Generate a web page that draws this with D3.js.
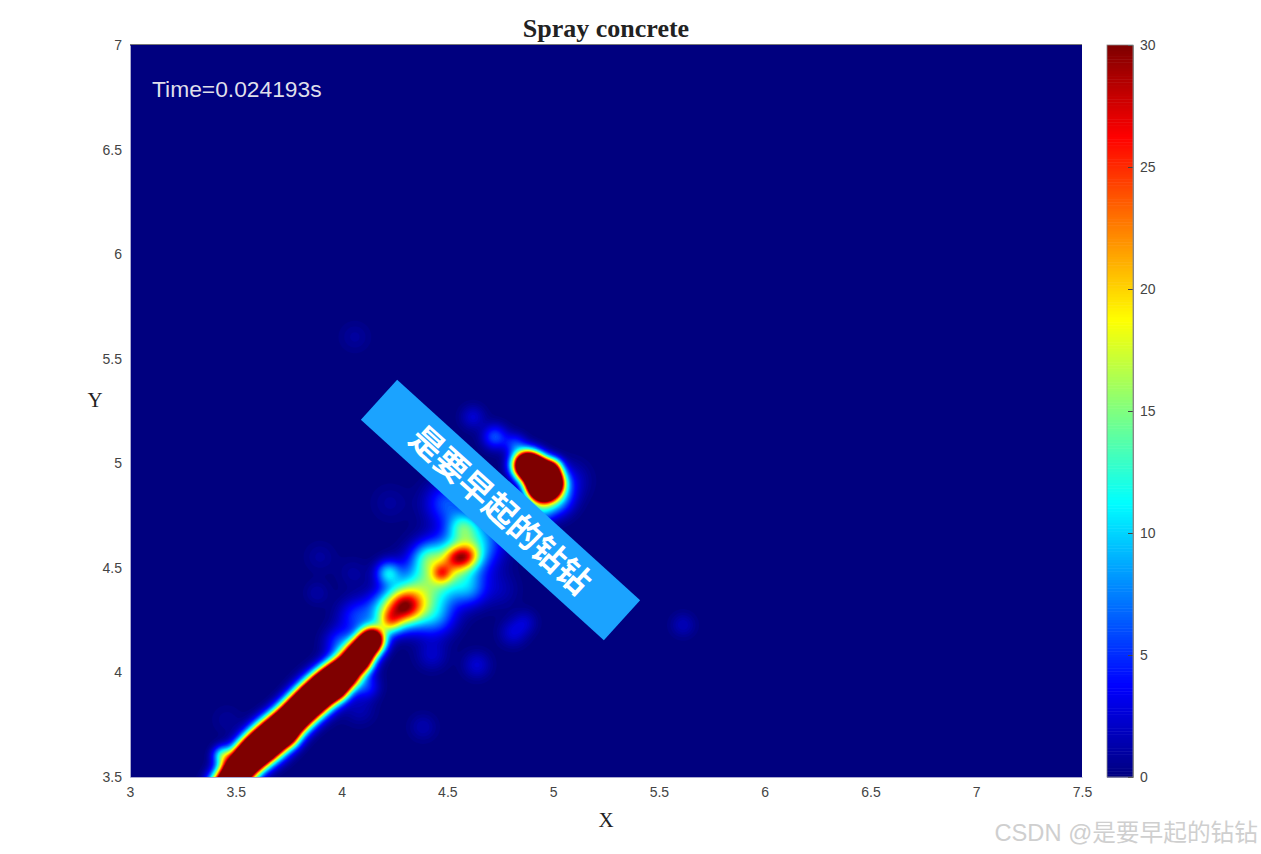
<!DOCTYPE html>
<html lang="en">
  <head>
    <meta charset="utf-8">
    <title>Spray concrete</title>
    <script src="https://d3js.org/d3.v7.min.js"></script>
    <style>
      html, body { margin: 0; background: #fff; }
      svg { display: block; }
      .tick text { font-family: "Liberation Sans", Arial, sans-serif; font-size: 14px; fill: #444; }
      .serif { font-family: "Liberation Serif", serif; fill: #222; }
    </style>
  </head>
  <body>
    <div id="chart"></div>
    <script>
      // concentration patches: centre, spread, peak value
      var patchX = [3.449, 3.496, 3.544, 3.591, 3.638, 3.685, 3.733, 3.780, 3.827, 3.874, 3.922, 3.969, 4.016, 4.064, 4.101, 4.144,
                    3.435, 3.76, 3.99, 4.11, 4.05, 3.90,
                    4.300, 4.229, 4.598, 4.541, 4.475, 4.366, 4.461, 4.556, 4.650, 4.574, 4.220, 4.404, 4.205, 4.442, 4.607, 4.073, 3.993, 4.498,
                    4.877, 4.929, 4.981, 4.943, 5.00, 5.010, 4.938, 5.08, 4.725, 4.621, 4.82,
                    4.063, 5.614, 4.81, 4.867, 4.640, 4.385, 3.898, 4.054, 3.884, 4.427, 4.087, 3.458, 4.229, 4.12, 4.749];
      var patchY = [3.438, 3.510, 3.572, 3.620, 3.658, 3.701, 3.744, 3.792, 3.839, 3.883, 3.926, 3.964, 4.002, 4.059, 4.107, 4.155,
                    3.605, 3.68, 3.90, 4.04, 4.03, 3.90,
                    4.313, 4.241, 4.557, 4.547, 4.475, 4.375, 4.470, 4.542, 4.637, 4.695, 4.475, 4.552, 4.299, 4.265, 4.394, 4.265, 4.141, 4.810,
                    4.992, 4.958, 4.911, 4.885, 4.98, 4.835, 4.777, 4.92, 5.126, 5.221, 5.09,
                    5.604, 4.227, 4.189, 4.241, 4.036, 3.739, 4.552, 4.475, 4.38, 4.083, 3.82, 3.773, 4.81, 3.93, 4.394];
      var patchSpread = [0.047, 0.047, 0.047, 0.047, 0.05, 0.05, 0.047, 0.047, 0.047, 0.047, 0.047, 0.047, 0.045, 0.042, 0.04, 0.04,
                         0.03, 0.03, 0.03, 0.03, 0.07, 0.07,
                         0.06, 0.04, 0.04, 0.04, 0.032, 0.09, 0.09, 0.09, 0.08, 0.05, 0.04, 0.05, 0.06, 0.065, 0.055, 0.06, 0.05, 0.07,
                         0.042, 0.042, 0.042, 0.042, 0.03, 0.055, 0.045, 0.06, 0.04, 0.04, 0.035,
                         0.05, 0.04, 0.045, 0.04, 0.045, 0.045, 0.05, 0.05, 0.04, 0.05, 0.05, 0.05, 0.06, 0.04, 0.06];
      var patchPeak = [50, 50, 50, 50, 50, 50, 50, 50, 50, 50, 50, 50, 45, 40, 40, 45,
                       10, 6, 6, 6, 3, 3,
                       22, 12, 10, 10, 9, 9, 9, 9, 7, 8, 9, 6, 8, 6, 5, 5, 5, 6,
                       60, 60, 60, 60, 15, 10, 7, 2.5, 6, 2.5, 5,
                       1, 1.8, 2.5, 2, 2.5, 1.5, 1, 1, 1.2, 2.2, 1.5, 0.8, 1, 4, 1.5];

      var xTicks = [3, 3.5, 4, 4.5, 5, 5.5, 6, 6.5, 7, 7.5];
      var yTicks = [3.5, 4, 4.5, 5, 5.5, 6, 6.5, 7];
      var barTicks = [0, 5, 10, 15, 20, 25, 30];

      var x = d3.scaleLinear().domain([3, 7.5]).range([130, 1082]);
      var y = d3.scaleLinear().domain([3.5, 7]).range([777, 45]);
      var barY = d3.scaleLinear().domain([0, 30]).range([777, 45]);

      // matlab jet
      var jet = d3.scaleLinear()
          .domain([0, 3.75, 11.25, 18.75, 26.25, 30])
          .range(["#00007f", "#0000ff", "#00ffff", "#ffff00", "#ff0000", "#7f0000"])
          .clamp(true);

      var svg = d3.select("#chart").append("svg")
          .attr("width", 1261)
          .attr("height", 854);

      svg.append("clipPath").attr("id", "plot-clip").append("rect")
          .attr("x", x(3)).attr("y", y(7))
          .attr("width", x(7.5) - x(3)).attr("height", y(3.5) - y(7));

      svg.append("rect")
          .attr("x", x(3)).attr("y", y(7))
          .attr("width", x(7.5) - x(3)).attr("height", y(3.5) - y(7))
          .attr("fill", jet(0));

      // sample the patches on a grid that runs a bit past the bottom edge
      var step = 0.01, x0 = 3, yTop = 7, yBottom = 3.25;
      var nx = Math.round((7.5 - x0) / step) + 1;
      var ny = Math.round((yTop - yBottom) / step) + 1;
      var grid = new Float64Array(nx * ny);
      patchX.forEach(function(px, k) {
        var s = patchSpread[k], r = s * 4;
        var i0 = Math.max(0, Math.floor((px - r - x0) / step)), i1 = Math.min(nx - 1, Math.ceil((px + r - x0) / step));
        var j0 = Math.max(0, Math.floor((yTop - patchY[k] - r) / step)), j1 = Math.min(ny - 1, Math.ceil((yTop - patchY[k] + r) / step));
        for (var j = j0; j <= j1; j++) {
          for (var i = i0; i <= i1; i++) {
            var dx = x0 + i * step - px, dy = yTop - j * step - patchY[k];
            grid[j * nx + i] += patchPeak[k] * Math.exp(-(dx * dx + dy * dy) / (2 * s * s));
          }
        }
      });

      var levels = d3.range(0.3, 30.01, 0.3);
      var contours = d3.contours().size([nx, ny]).thresholds(levels)(grid);
      var path = d3.geoPath(d3.geoTransform({
        point: function(i, j) {
          this.stream.point(x(x0 + (i - 0.5) * step), y(yTop - (j - 0.5) * step));
        }
      }));

      svg.append("g")
          .attr("clip-path", "url(#plot-clip)")
          .selectAll("path")
          .data(contours)
          .enter().append("path")
          .attr("d", path)
          .attr("fill", function(d) { return jet(d.value); });

      // axes
      var xAxis = svg.append("g")
          .attr("transform", "translate(0,777)")
          .call(d3.axisBottom(x).tickValues(xTicks).tickFormat(d3.format("")).tickSize(0).tickPadding(10));
      var yAxis = svg.append("g")
          .attr("transform", "translate(130,0)")
          .call(d3.axisLeft(y).tickValues(yTicks).tickFormat(d3.format("")).tickSize(0).tickPadding(8));
      xAxis.select(".domain").attr("stroke", "#a9a9d0");
      yAxis.select(".domain").attr("stroke", "#a9a9d0");
      svg.append("line")
          .attr("x1", x(3)).attr("x2", x(7.5)).attr("y1", y(7) - 0.5).attr("y2", y(7) - 0.5)
          .attr("stroke", "#777");

      // colorbar
      var barLevels = d3.range(0, 256);
      var barCell = 30 / 256;
      svg.append("g").selectAll("rect")
          .data(barLevels)
          .enter().append("rect")
          .attr("x", 1107)
          .attr("width", 26)
          .attr("y", function(d) { return barY((d + 1) * barCell); })
          .attr("height", function(d) { return barY(d * barCell) - barY((d + 1) * barCell) + 0.5; })
          .attr("fill", function(d) { return jet((d + 0.5) * barCell); });
      var barAxis = svg.append("g")
          .attr("transform", "translate(1133,0)")
          .call(d3.axisRight(barY).tickValues(barTicks).tickSize(-5).tickPadding(7));
      barAxis.selectAll(".tick line").attr("stroke", "#444");
      barAxis.select(".domain").attr("stroke", "#888");
      svg.append("rect")
          .attr("x", 1107).attr("y", 45).attr("width", 26).attr("height", 732)
          .attr("fill", "none").attr("stroke", "#888").attr("stroke-width", 0.8);

      // labels
      svg.append("text").attr("class", "serif")
          .attr("x", 606).attr("y", 37).attr("text-anchor", "middle")
          .attr("font-size", 26).attr("font-weight", "bold")
          .text("Spray concrete");
      svg.append("text").attr("class", "serif")
          .attr("x", 606).attr("y", 827).attr("text-anchor", "middle")
          .attr("font-size", 21)
          .text("X");
      svg.append("text").attr("class", "serif")
          .attr("x", 95).attr("y", 407).attr("text-anchor", "middle")
          .attr("font-size", 21)
          .text("Y");
      svg.append("text")
          .attr("x", 152).attr("y", 97)
          .attr("font-family", "Liberation Sans, Arial, sans-serif")
          .attr("font-size", 22.8).attr("fill", "#dfdfea")
          .text("Time=0.024193s");

      // banner over the plot
      var banner = svg.append("g").attr("transform", "translate(500.5,510) rotate(42.2)");
      banner.append("rect")
          .attr("x", -164).attr("y", -27).attr("width", 328).attr("height", 54)
          .attr("fill", "#1ba3ff");
      banner.append("text")
          .attr("text-anchor", "middle").attr("y", 12)
          .attr("font-family", "Noto Sans CJK SC")
          .attr("font-size", 33).attr("font-weight", "bold").attr("fill", "#fff")
          .text("是要早起的钻钻");

      // site watermark
      svg.append("text")
          .attr("x", 1258).attr("y", 841).attr("text-anchor", "end")
          .attr("font-family", "Liberation Sans, Noto Sans CJK SC")
          .attr("font-size", 23.7).attr("fill", "#cfcfcf")
          .text("CSDN @是要早起的钻钻");
    </script>
  </body>
</html>
